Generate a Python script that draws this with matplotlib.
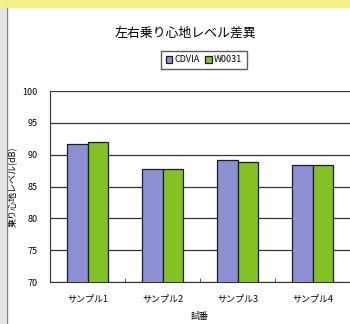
import numpy as np
import matplotlib.pyplot as plt
from matplotlib.patches import Rectangle

plt.rcParams['font.family'] = ['Noto Sans CJK JP', 'DejaVu Sans']

# データ
試番 = ['サンプル1', 'サンプル2', 'サンプル3', 'サンプル4']
cdvia = [91.7, 87.8, 89.1, 88.4]
w0031 = [92.0, 87.8, 88.8, 88.3]
yticks = [70, 75, 80, 85, 90, 95, 100]

fig = plt.figure(figsize=(3.5, 3.24), dpi=100)

# 画面の枠（黄色の帯と左の灰色）
fig.patches.append(Rectangle((0, 1 - 8/324), 1, 8/324, transform=fig.transFigure,
                             facecolor='#f5f08c', edgecolor='none', zorder=0))
fig.patches.append(Rectangle((0, 0), 6/350, 1 - 8/324, transform=fig.transFigure,
                             facecolor='#e4e4e4', edgecolor='none', zorder=0))
fig.lines.append(plt.Line2D([7/350, 7/350], [0, 1 - 8/324], transform=fig.transFigure,
                            color='#808080', lw=1))

ax = fig.add_axes([50/350, 42/324, 300/350, 191/324])

x = np.arange(len(試番))
w = 0.275
ax.bar(x - w/2, cdvia, w, color='#8c90d2', edgecolor='#1a1a2e', lw=0.9, label='CDVIA', zorder=3)
ax.bar(x + w/2, w0031, w, color='#84c224', edgecolor='#1a1a2e', lw=0.9, label='W0031', zorder=3)

ax.set_xlim(-0.5, len(試番) - 0.5)
ax.set_ylim(70, 100)
ax.set_yticks(yticks)
ax.tick_params(axis='y', length=0, pad=9, labelsize=6.5)
ax.set_xticks(x)
ax.set_xticklabels(試番, fontsize=6.5)
ax.tick_params(axis='x', length=0, pad=9)
# 区切りの目盛り
ax.set_xticks(np.arange(0.5, len(試番) - 0.5, 1), minor=True)
ax.tick_params(axis='x', which='minor', direction='in', length=3, color='#444444')

ax.yaxis.grid(True, color='#333333', lw=0.9, zorder=0)
for s in ['right', 'top']:
    ax.spines[s].set_visible(False)
ax.spines['left'].set_color('#333333')
ax.spines['bottom'].set_color('#333333')

ax.set_ylabel('乗り心地レベル(dB)', fontsize=6.5)
ax.yaxis.set_label_coords(-33/300, 0.5)
ax.set_xlabel('試番', fontsize=6.5)
ax.xaxis.set_label_coords(0.5, -30/191)

fig.text(185/350, 1 - 33/324, '左右乗り心地レベル差異', ha='center', va='center', fontsize=9.3)
fig.legend(loc='center', bbox_to_anchor=(204/350, 1 - 60/324), ncol=2, fontsize=6.5,
           frameon=True, fancybox=False, edgecolor='#333333', handlelength=0.7,
           handleheight=0.7, handletextpad=0.3, columnspacing=0.6, borderpad=0.5,
           borderaxespad=0)

fig.savefig('out.png', dpi=100)
